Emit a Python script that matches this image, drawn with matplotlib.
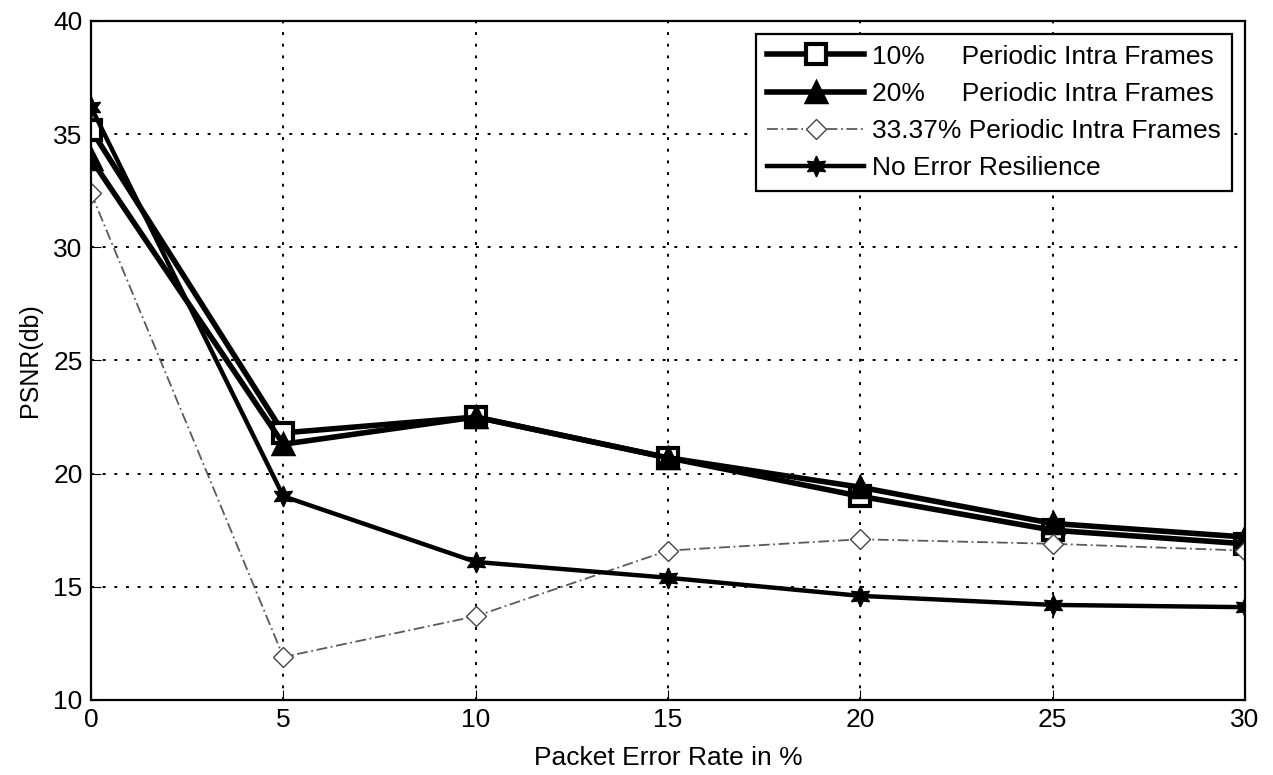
import matplotlib
matplotlib.use("Agg")
import matplotlib.pyplot as plt

# packet error rate (%) and PSNR for each scheme
per = [0, 5, 10, 15, 20, 25, 30]
psnr_10 = [35.2, 21.8, 22.5, 20.7, 19.0, 17.5, 16.9]
psnr_20 = [33.9, 21.3, 22.5, 20.7, 19.4, 17.8, 17.2]
psnr_33 = [32.4, 11.9, 13.7, 16.6, 17.1, 16.9, 16.6]
psnr_none = [36.2, 19.0, 16.1, 15.4, 14.6, 14.2, 14.1]

labels = ["10%     Periodic Intra Frames",
          "20%     Periodic Intra Frames",
          "33.37% Periodic Intra Frames",
          "No Error Resilience"]

plt.rcParams["font.family"] = ["Liberation Sans", "DejaVu Sans"]

fig = plt.figure(figsize=(12.73, 7.75), dpi=100)
ax = fig.add_axes([0.0715, 0.0968, 0.9065, 0.8762])

ax.plot(per, psnr_10, color="black", lw=4, marker="s", ms=14,
        mfc="white", mec="black", mew=3, label=labels[0])
ax.plot(per, psnr_20, color="black", lw=4, marker="^", ms=15,
        mfc="black", mec="black", mew=2.5, label=labels[1])
ax.plot(per, psnr_33, color="#5a5a5a", lw=1.3, ls=(0, (6, 2, 1, 2)),
        marker="D", ms=10, mfc="white", mec="#444444", mew=1.0, label=labels[2])
ax.plot(per, psnr_none, color="black", lw=3.2, marker=(6, 1, 0), ms=15,
        mfc="black", mec="black", label=labels[3])

ax.set_xlim(0, 30)
ax.set_ylim(10, 40)
ax.set_xticks(per)
ax.set_yticks([10, 15, 20, 25, 30, 35, 40])
ax.grid(True, ls=(0, (1.5, 4.5)), color="black", lw=1.4)
ax.tick_params(labelsize=19, direction="in", length=7, pad=6)
for s in ax.spines.values():
    s.set_linewidth(1.6)

ax.set_xlabel("Packet Error Rate in %", fontsize=19, labelpad=10)
ax.set_ylabel("PSNR(db)", fontsize=18, labelpad=8)

leg = ax.legend(loc="upper right", fontsize=19, fancybox=False, framealpha=1,
                edgecolor="black", handlelength=3.7, borderpad=0.4,
                labelspacing=0.5, handletextpad=0.3, borderaxespad=0.5)
leg.get_frame().set_linewidth(1.6)

fig.savefig("out.png", dpi=100)
